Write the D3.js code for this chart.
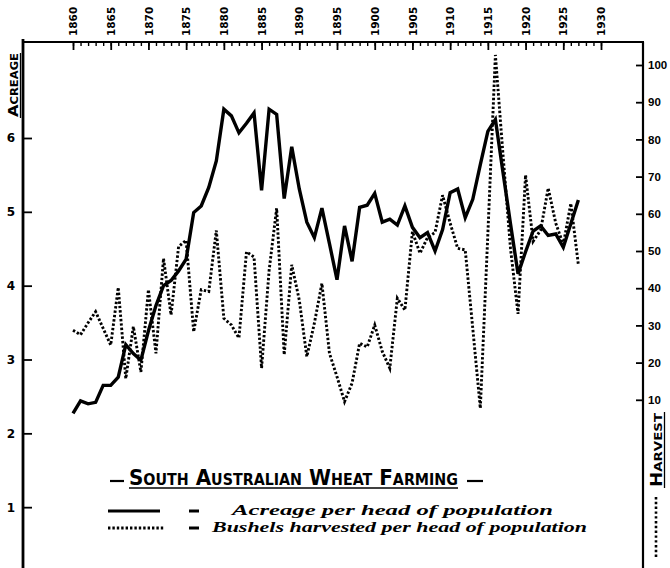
<!DOCTYPE html>
<html>
<head>
<meta charset="utf-8">
<script src="https://cdn.jsdelivr.net/npm/d3@7"></script>
<style>
  body { margin: 0; background: #fff; }
  svg { display: block; }
  text { fill: #000; }
</style>
</head>
<body>
<svg width="670" height="568"></svg>
<script>
//years covered by both series
const years = d3.range(1860, 1928)
//acres of wheat per head of population
const acreage = [
  2.27, 2.44, 2.40, 2.42, 2.65, 2.65, 2.76, 3.20, 3.08, 2.99,
  3.39, 3.73, 4.00, 4.07, 4.20, 4.36, 4.99, 5.08, 5.33, 5.69,
  6.39, 6.30, 6.07, 6.20, 6.34, 5.29, 6.39, 6.32, 5.18, 5.88,
  5.31, 4.86, 4.65, 5.05, 4.57, 4.08, 4.81, 4.33, 5.06, 5.09,
  5.25, 4.86, 4.90, 4.82, 5.08, 4.79, 4.65, 4.72, 4.47, 4.76,
  5.26, 5.31, 4.92, 5.17, 5.64, 6.09, 6.25, 5.54, 4.84, 4.16,
  4.46, 4.74, 4.81, 4.68, 4.70, 4.52, 4.84, 5.16
]
//bushels harvested per head of population
const harvest = [
  28.7, 27.5, 30.7, 33.7, 29.2, 24.7, 40.2, 15.7, 29.7, 17.5,
  39.6, 22.5, 48.0, 32.8, 51.2, 52.9, 28.3, 39.6, 39.1, 55.5,
  31.9, 30.1, 26.6, 49.8, 48.4, 18.5, 44.8, 61.5, 22.1, 46.3,
  36.8, 21.6, 30.6, 41.3, 22.5, 16.2, 9.5, 14.5, 25.2, 24.2,
  30.1, 23.0, 18.5, 37.3, 34.1, 55.2, 49.4, 53.6, 55.0, 65.0,
  57.5, 50.7, 50.3, 29.2, 7.7, 54.6, 102.7, 76.1, 50.7, 33.1,
  70.4, 52.6, 55.6, 66.9, 57.5, 51.7, 62.8, 46.3
]
//tick labels
const yearTicks = d3.range(1860, 1931, 5)
const acreageTicks = [1, 2, 3, 4, 5, 6]
const harvestTicks = [10, 20, 30, 40, 50, 60, 70, 80, 90, 100]
const title = "South Australian Wheat Farming"
const legendLabels = ["Acreage  per head of population", "Bushels harvested per head of population"]

const svg = d3.select("svg")

//frame edges
const frameL = 23, frameR = 643, frameT = 42, frameB = 568

const x = d3.scaleLinear().domain([1860, 1930]).range([73, 601])
const yA = d3.scaleLinear().domain([0, 6]).range([581, 138])
const yH = d3.scaleLinear().domain([0, 100]).range([437, 65])

//frame
svg.append("line").attr("x1", frameL).attr("x2", frameL).attr("y1", frameT - 3).attr("y2", frameB)
  .attr("stroke", "#000").attr("stroke-width", 2.8)
svg.append("line").attr("x1", frameL).attr("x2", frameR + 1).attr("y1", frameT).attr("y2", frameT)
  .attr("stroke", "#000").attr("stroke-width", 2.2)
svg.append("line").attr("x1", frameR).attr("x2", frameR).attr("y1", frameT).attr("y2", frameB)
  .attr("stroke", "#000").attr("stroke-width", 2.2)

//top axis: yearly minor ticks, labelled ticks every five years
svg.append("g").attr("transform", `translate(0,${frameT})`)
  .call(d3.axisTop(x).tickValues(d3.range(1860, 1931)).tickSizeInner(-4).tickSizeOuter(0).tickFormat(""))
  .call(g => g.select(".domain").remove())
  .call(g => g.selectAll("line").attr("stroke-width", 1.4))

const topAxis = svg.append("g").attr("transform", `translate(0,${frameT})`)
  .call(d3.axisTop(x).tickValues(yearTicks).tickSizeInner(-8).tickSizeOuter(0).tickFormat(d3.format("d")))
topAxis.select(".domain").remove()
topAxis.selectAll("line").attr("stroke-width", 1.8)
topAxis.selectAll("text")
  .attr("transform", "rotate(-90)")
  .attr("x", 6).attr("y", 0).attr("dy", "0.35em")
  .style("text-anchor", "start")
  .style("font", "bold 10.5px 'DejaVu Sans'")

//left axis: acreage
const leftAxis = svg.append("g").attr("transform", `translate(${frameL},0)`)
  .call(d3.axisLeft(yA).tickValues(acreageTicks).tickSizeInner(-9).tickSizeOuter(0).tickPadding(8)
    .tickFormat(d3.format("d")))
leftAxis.select(".domain").remove()
leftAxis.selectAll("line").attr("stroke-width", 1.8)
leftAxis.selectAll("text").style("font", "bold 12px 'DejaVu Sans'")

//right axis: harvest
const rightAxis = svg.append("g").attr("transform", `translate(${frameR},0)`)
  .call(d3.axisRight(yH).tickValues(harvestTicks).tickSizeInner(-7).tickSizeOuter(0).tickPadding(5))
rightAxis.select(".domain").remove()
rightAxis.selectAll("line").attr("stroke-width", 1.8)
rightAxis.selectAll("text").style("font", "bold 11.5px 'Liberation Sans'")

//axis titles
svg.append("text").attr("transform", "translate(18,85) rotate(-90)")
  .attr("text-anchor", "middle").attr("textLength", 64).attr("lengthAdjust", "spacingAndGlyphs")
  .style("font", "bold small-caps 14px 'DejaVu Sans'").text("Acreage")
svg.append("line").attr("x1", 20.5).attr("x2", 20.5).attr("y1", 53).attr("y2", 118)
  .attr("stroke", "#000").attr("stroke-width", 1.3)

svg.append("text").attr("transform", "translate(662,450) rotate(-90)")
  .attr("text-anchor", "middle").attr("textLength", 74).attr("lengthAdjust", "spacingAndGlyphs")
  .style("font", "bold small-caps 15px 'DejaVu Sans'").text("Harvest")
svg.append("line").attr("x1", 664.5).attr("x2", 664.5).attr("y1", 412).attr("y2", 488)
  .attr("stroke", "#000").attr("stroke-width", 1.3)
svg.append("line").attr("x1", 656).attr("x2", 656).attr("y1", 497).attr("y2", 558)
  .attr("stroke", "#000").attr("stroke-width", 2.6).attr("stroke-dasharray", "2.4,2.4")

//series
const acreageLine = d3.line().x((d, i) => x(years[i])).y(d => yA(d))
const harvestLine = d3.line().x((d, i) => x(years[i])).y(d => yH(d))

svg.append("path").datum(harvest).attr("d", harvestLine)
  .attr("fill", "none").attr("stroke", "#000").attr("stroke-width", 2.9)
  .attr("stroke-dasharray", "2.4,2")

svg.append("path").datum(acreage).attr("d", acreageLine)
  .attr("fill", "none").attr("stroke", "#000").attr("stroke-width", 3.4)
  .attr("stroke-linejoin", "miter")

//title
svg.append("line").attr("x1", 110).attr("x2", 124).attr("y1", 481).attr("y2", 481)
  .attr("stroke", "#000").attr("stroke-width", 2.2)
svg.append("text").attr("x", 129).attr("y", 485)
  .attr("textLength", 329).attr("lengthAdjust", "spacingAndGlyphs")
  .style("font", "bold small-caps 21px 'DejaVu Sans'").text(title)
svg.append("line").attr("x1", 129).attr("x2", 458).attr("y1", 488).attr("y2", 488)
  .attr("stroke", "#000").attr("stroke-width", 1.6)
svg.append("line").attr("x1", 467).attr("x2", 483).attr("y1", 481).attr("y2", 481)
  .attr("stroke", "#000").attr("stroke-width", 2.2)

//legend
const legend = [
  {y: 511, dash: null, x2: 160, label: legendLabels[0], tx: 232, tl: 321, ty: 515},
  {y: 528, dash: "2.4,2", x2: 165, label: legendLabels[1], tx: 212, tl: 375, ty: 532}
]
const rows = svg.selectAll(".legend").data(legend).enter().append("g").attr("class", "legend")
rows.append("line").attr("x1", 108).attr("x2", d => d.x2).attr("y1", d => d.y).attr("y2", d => d.y)
  .attr("stroke", "#000").attr("stroke-width", d => d.dash ? 2.8 : 3)
  .attr("stroke-dasharray", d => d.dash)
rows.append("line").attr("x1", 189).attr("x2", 199).attr("y1", d => d.y).attr("y2", d => d.y)
  .attr("stroke", "#000").attr("stroke-width", 3)
rows.append("text").attr("x", d => d.tx).attr("y", d => d.ty)
  .attr("textLength", d => d.tl).attr("lengthAdjust", "spacingAndGlyphs")
  .style("font", "bold italic 15.5px 'Liberation Serif'")
  .text(d => d.label)
</script>
</body>
</html>
